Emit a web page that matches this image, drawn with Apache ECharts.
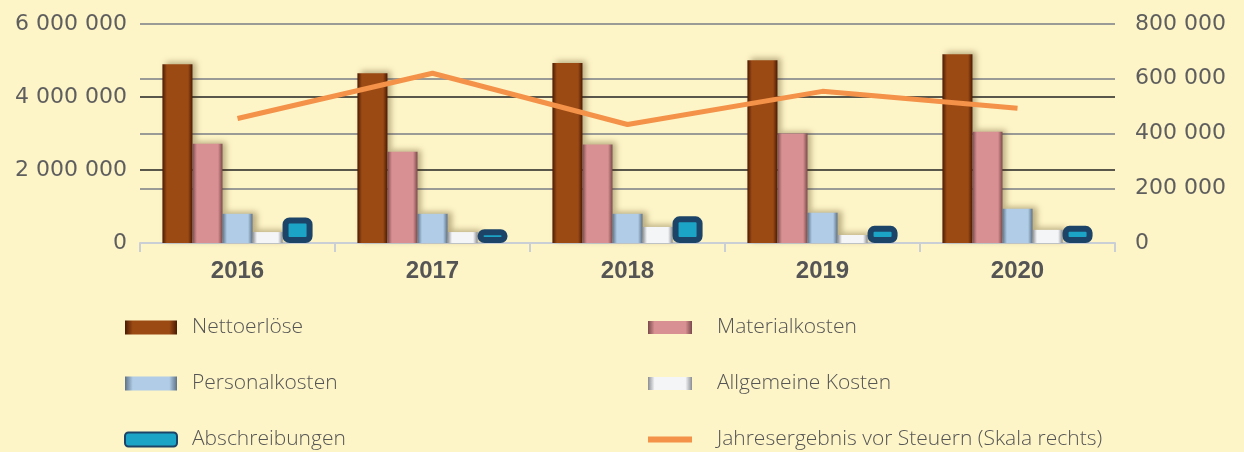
<!DOCTYPE html>
<html>
<head>
<meta charset="utf-8">
<script src="https://cdn.jsdelivr.net/npm/echarts@6/dist/echarts.min.js"></script>
<style>
  html, body { margin: 0; padding: 0; background: #fdf4c7; }
  #chart { width: 1244px; height: 452px; }
</style>
</head>
<body>
<div id="chart"></div>
<script>
// Werte
var years = ['2016', '2017', '2018', '2019', '2020'];
var nettoerloese = [4900000, 4650000, 4930000, 5010000, 5170000];
var materialkosten = [2720000, 2500000, 2700000, 3000000, 3050000];
var personalkosten = [800000, 800000, 800000, 830000, 940000];
var allgemeineKosten = [300000, 300000, 440000, 220000, 360000];
var abschreibungen = [700000, 380000, 730000, 470000, 470000];
var jahresergebnis = [455000, 620000, 433000, 554000, 492000];

var leftTicks = [0, 2000000, 4000000, 6000000];
var rightTicks = [0, 200000, 400000, 600000, 800000];

function fmt(v) {
    return String(v).replace(/\B(?=(\d{3})+(?!\d))/g, ' ');
}

// Balken mit "Bevel"-Effekt: dunkle Kanten, helle Mitte
function bevel(edge, mid) {
    return new echarts.graphic.LinearGradient(0, 0, 1, 0, [
        {offset: 0, color: edge},
        {offset: 0.15, color: mid},
        {offset: 0.85, color: mid},
        {offset: 1, color: edge}
    ]);
}

var shadow = {shadowColor: 'rgba(60,40,0,0.35)', shadowBlur: 6, shadowOffsetX: 4, shadowOffsetY: -2};

var chart = echarts.init(document.getElementById('chart'));
var tickFont = 'DejaVu Sans';
var legendFont = 'Open Sans';

var option = {
    backgroundColor: '#fdf4c7',
    animation: false,
    grid: {left: 140, right: 129, top: 24, bottom: 209},
    legend: [
        {
            orient: 'vertical',
            left: 124,
            top: 317,
            padding: 0,
            itemGap: 35,
            itemWidth: 52,
            itemHeight: 14,
            textStyle: {fontFamily: legendFont, fontWeight: 300, fontSize: 21, color: '#555', padding: [0, 0, 0, 10]},
            data: [
                {name: 'Nettoerlöse', icon: 'rect'},
                {name: 'Personalkosten', icon: 'rect'},
                {name: 'Abschreibungen', icon: 'roundRect'}
            ]
        },
        {
            orient: 'vertical',
            left: 648,
            top: 317,
            padding: 0,
            itemGap: 35,
            itemWidth: 44,
            itemHeight: 13,
            textStyle: {fontFamily: legendFont, fontWeight: 300, fontSize: 21, color: '#555', padding: [0, 0, 0, 20]},
            data: [
                {name: 'Materialkosten', icon: 'rect'},
                {name: 'Allgemeine Kosten', icon: 'rect'},
                {name: 'Jahresergebnis vor Steuern (Skala rechts)', icon: 'path://M0,0L44,0L44,6L0,6Z'}
            ]
        }
    ],
    xAxis: {
        type: 'category',
        data: years,
        axisLine: {lineStyle: {color: '#c9cfd4', width: 2}},
        axisTick: {show: true, length: 9, lineStyle: {color: '#c9cfd4', width: 2}},
        axisLabel: {fontFamily: 'Liberation Sans', fontWeight: 'bold', fontSize: 24, color: '#555', margin: 16}
    },
    yAxis: [
        {
            type: 'value',
            min: leftTicks[0],
            max: leftTicks[leftTicks.length - 1],
            interval: leftTicks[1] - leftTicks[0],
            axisLine: {show: false},
            axisTick: {show: false},
            splitLine: {lineStyle: {color: '#222', width: 1.5}},
            axisLabel: {fontFamily: tickFont, fontSize: 22, color: '#5e5e5e', margin: 13, formatter: fmt}
        },
        {
            type: 'value',
            min: rightTicks[0],
            max: rightTicks[rightTicks.length - 1],
            interval: rightTicks[1] - rightTicks[0],
            axisLine: {show: false},
            axisTick: {show: false},
            splitLine: {lineStyle: {color: '#9a9a96', width: 2}},
            axisLabel: {fontFamily: tickFont, fontSize: 22, color: '#5e5e5e', margin: 20, formatter: fmt}
        }
    ],
    series: [
        {
            name: 'Nettoerlöse', type: 'bar', data: nettoerloese,
            barGap: '0%', barCategoryGap: '23%',
            itemStyle: Object.assign({color: bevel('#4a1a02', '#9c4a14')}, shadow)
        },
        {
            name: 'Materialkosten', type: 'bar', data: materialkosten,
            itemStyle: Object.assign({color: bevel('#7a4a4c', '#d99092')}, shadow)
        },
        {
            name: 'Personalkosten', type: 'bar', data: personalkosten,
            itemStyle: Object.assign({color: bevel('#5e7288', '#b0cce6')}, shadow)
        },
        {
            name: 'Allgemeine Kosten', type: 'bar', data: allgemeineKosten,
            itemStyle: Object.assign({color: bevel('#8a8e94', '#f4f5f6')}, shadow)
        },
        {
            name: 'Abschreibungen', type: 'bar', data: abschreibungen,
            itemStyle: {color: '#1ca4c6', borderColor: '#1c4468', borderWidth: 6, borderRadius: 4}
        },
        {
            name: 'Jahresergebnis vor Steuern (Skala rechts)', type: 'line', yAxisIndex: 1,
            data: jahresergebnis, showSymbol: false, symbol: 'none',
            itemStyle: {color: '#f39248'},
            lineStyle: {color: '#f39248', width: 5}
        }
    ]
};

chart.setOption(option);
</script>
</body>
</html>
